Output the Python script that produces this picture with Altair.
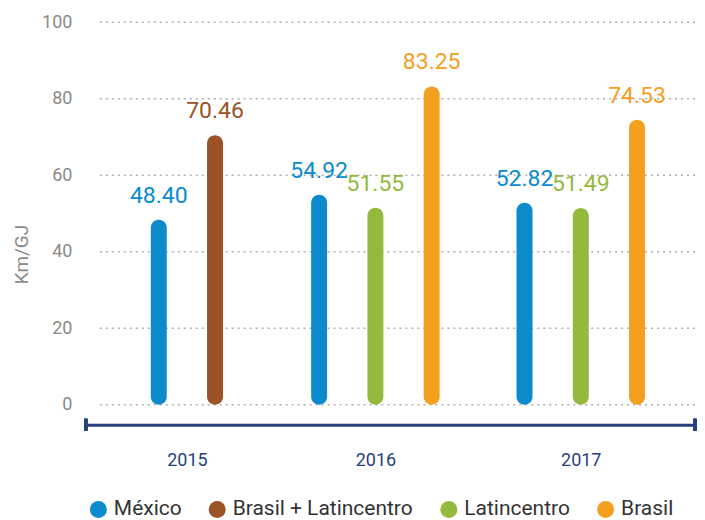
import altair as alt
import pandas as pd

# ---- data ----
years = ["2015", "2015", "2016", "2016", "2016", "2017", "2017", "2017"]
series = ["México", "Brasil + Latincentro", "México", "Latincentro", "Brasil",
          "México", "Latincentro", "Brasil"]
values = [48.40, 70.46, 54.92, 51.55, 83.25, 52.82, 51.49, 74.53]
y_ticks = [0, 20, 40, 60, 80, 100]
legend_order = ["México", "Brasil + Latincentro", "Latincentro", "Brasil"]
colors = ["#0B8BCB", "#9B5226", "#93BA3C", "#F3A01F"]

# ---- layout: slot index per bar (bars 4 units apart, gaps between year groups) ----
BAR_STEP = 4
GROUP_GAPS = [7.4, 6.6]
pos = []
group_mid = {}
cur = 0
prev_year = None
gap_i = 0
for y in years:
    if prev_year is not None:
        if y == prev_year:
            cur += BAR_STEP
        else:
            cur += GROUP_GAPS[gap_i]
            gap_i += 1
    pos.append(cur)
    prev_year = y
for y in dict.fromkeys(years):
    ps = [p for p, yy in zip(pos, years) if yy == y]
    group_mid[y] = round(sum(ps) / len(ps), 4)

df = pd.DataFrame({"year": years, "series": series, "value": values, "pos": pos})
grid_df = pd.DataFrame({"tick": y_ticks})

W, H = 610, 403
navy = "#263F7D"
gray = "#8A8A8A"

x_scale = alt.Scale(domain=[-5.18, 38.12], nice=False, zero=False, padding=0)
y_scale = alt.Scale(domain=[-5.22, 100], nice=False, zero=False)
color_scale = alt.Scale(domain=legend_order, range=colors)

mid_vals = list(group_mid.values())
label_expr = " : ".join(
    [f"abs(datum.value - {v}) < 0.01 ? '{k}'" for k, v in group_mid.items()]) + " : ''"

y_axis = alt.Axis(values=y_ticks, title="Km/GJ", grid=False, ticks=False,
                  domain=False, labelFontSize=18, labelColor=gray,
                  labelPadding=14, titleFontSize=19, titleColor=gray,
                  titleFontWeight="normal", titleAngle=270,
                  titleX=-64, titleY=232, titleAlign="center",
                  titleBaseline="middle")
x_axis = alt.Axis(values=mid_vals, labelExpr=label_expr, title=None,
                  grid=False, ticks=False, domainColor=navy,
                  domainWidth=3, labelFontSize=18, labelColor=navy,
                  labelPadding=27)

grid = alt.Chart(grid_df).mark_rule(
    color="#AFAFAF", strokeWidth=1.5, strokeDash=[2, 4]
).encode(
    y=alt.Y("tick:Q", scale=y_scale, axis=y_axis),
    x=alt.value(14),
    x2=alt.value(W),
)

bars = alt.Chart(df).mark_bar(width=16, cornerRadius=8).encode(
    x=alt.X("pos:Q", scale=x_scale, axis=x_axis),
    y=alt.Y("value:Q", scale=y_scale, axis=y_axis),
    y2=alt.datum(0),
    color=alt.Color("series:N", scale=color_scale, title=None,
                    legend=alt.Legend(orient="none", legendX=2, legendY=477,
                                      direction="horizontal", symbolType="circle",
                                      symbolSize=289, symbolStrokeWidth=0,
                                      labelFontSize=21, labelColor="#333333",
                                      labelLimit=400,
                                      columnPadding=25, labelOffset=5)),
)

labels = alt.Chart(df).mark_text(
    fontSize=23, baseline="alphabetic", dy=-17, align="center"
).encode(
    x=alt.X("pos:Q", scale=x_scale, axis=x_axis),
    y=alt.Y("value:Q", scale=y_scale, axis=y_axis),
    text=alt.Text("value:Q", format=".2f"),
    color=alt.Color("series:N", scale=color_scale, legend=None),
)

end_l = alt.Chart(grid_df).mark_rule(color=navy, strokeWidth=3).encode(
    x=alt.value(0), y=alt.value(H - 6), y2=alt.value(H + 6))
end_r = alt.Chart(grid_df).mark_rule(color=navy, strokeWidth=3).encode(
    x=alt.value(W), y=alt.value(H - 6), y2=alt.value(H + 6))

chart = alt.layer(grid, bars, labels, end_l, end_r).properties(
    width=W, height=H,
    padding={"left": 5, "top": 5, "right": 0, "bottom": 0},
).configure(font="Roboto").configure_view(stroke=None, strokeWidth=0)

chart.save("out.html", embed_options={"renderer": "svg", "actions": False})
